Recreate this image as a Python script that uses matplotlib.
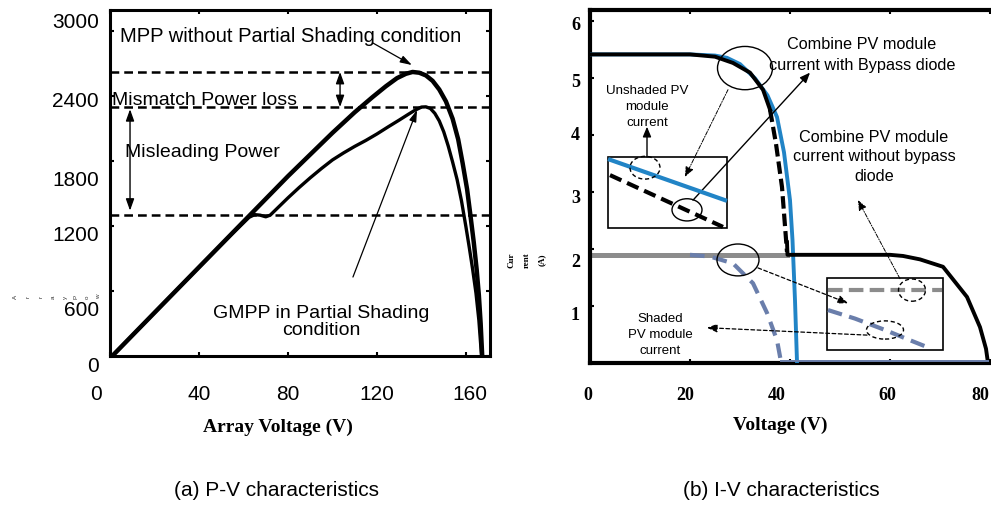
import matplotlib
matplotlib.use('Agg')
import matplotlib.pyplot as plt
from matplotlib.patches import Ellipse, Rectangle

plt.rcParams['font.family'] = ['Liberation Sans', 'DejaVu Sans']

W, H = 991, 505

# ---- P-V data (array voltage V, power W) ----
v_uniform = [1, 20, 40, 60, 80, 100, 110, 118, 124, 129, 133, 136, 139, 142, 145,
             148, 151, 154, 156.5, 158.5, 160.5, 162, 163.5, 164.8, 165.8, 166.6, 167.3]
p_uniform = [0, 400, 820, 1240, 1660, 2060, 2250, 2390, 2490, 2565, 2605, 2622, 2615,
             2590, 2540, 2460, 2350, 2190, 2000, 1780, 1540, 1300, 1050, 800, 560, 300, 0]

v_shaded = [1, 20, 40, 55, 60, 62.5, 65, 67.5, 70, 72, 75, 80, 85, 90, 95, 100, 105,
            110, 115, 120, 125, 130, 134, 137, 140, 142, 144, 146, 148, 150, 152, 154,
            156, 158, 160, 161.5, 163, 164.5, 165.8, 167]
p_shaded = [0, 400, 820, 1130, 1230, 1280, 1305, 1300, 1285, 1300, 1360, 1460, 1555,
            1645, 1730, 1810, 1875, 1935, 1990, 2050, 2115, 2178, 2230, 2268, 2298, 2300,
            2285, 2240, 2170, 2070, 1940, 1790, 1630, 1430, 1190, 1000, 800, 580, 330, 0]

p_mpp = 2622     # MPP without shading
p_gmpp = 2298    # GMPP with partial shading
p_lmpp = 1302    # local peak (misleading)

pv_xticks = [0, 40, 80, 120, 160]
pv_yticks = [0, 600, 1200, 1800, 2400, 3000]

# ---- I-V data (voltage V, current A) ----
v_comb_top = [0, 20, 25, 28.6, 32, 34.6, 36]
i_comb_top = [5.42, 5.42, 5.38, 5.27, 5.10, 4.80, 4.45]
v_comb_drop = [36, 37.2, 38.4, 39.4]
i_comb_drop = [4.45, 3.85, 3.09, 1.95]
v_comb_low = [39.4, 39.5, 50, 60, 62.6, 66, 70.6, 75.4, 78, 79.2, 79.6]
i_comb_low = [2.12, 1.9, 1.9, 1.9, 1.88, 1.82, 1.69, 1.16, 0.63, 0.25, 0.0]

v_unshaded = [0, 20, 25, 27.4, 30, 33, 35.5, 37.4, 38.8, 40, 40.5, 41, 41.4]
i_unshaded = [5.42, 5.42, 5.4, 5.36, 5.25, 5.0, 4.7, 4.32, 3.7, 2.86, 2.16, 1.1, 0.02]

v_gray = [0, 39.4]
i_gray = [1.9, 1.9]

v_shaded_iv = [20, 24, 28.6, 32.6, 35.4, 37.4, 38.2]
i_shaded_iv = [1.9, 1.87, 1.75, 1.4, 0.88, 0.4, 0.02]

v_zero = [38.2, 79.6]
i_zero = [0.03, 0.03]

# zoomed detail lines inside the two insets
v_in1_blue = [4, 27]
i_in1_blue = [3.57, 2.86]
v_in1_black = [4, 26.6]
i_in1_black = [3.30, 2.39]
v_in2_gray = [47.6, 70.4]
i_in2_gray = [1.28, 1.28]
v_in2_slate = [47.6, 53, 59, 64, 68]
i_in2_slate = [0.93, 0.78, 0.58, 0.40, 0.26]

iv_xticks = [0, 20, 40, 60, 80]
iv_yticks = [1, 2, 3, 4, 5, 6]

BLUE = '#2184c6'
GRAY = '#8c8c8c'
SLATE = '#6a7eab'


def px_axes(x0, y0, x1, y1):
    return fig.add_axes([x0 / W, 1 - y1 / H, (x1 - x0) / W, (y1 - y0) / H])


def ftext(x, y, s, **kw):
    fig.text(x / W, 1 - y / H, s, **kw)


fig = plt.figure(figsize=(W / 100, H / 100), dpi=100)

# ================= (a) P-V =================
ax1 = px_axes(110, 10, 490, 356)
ax1.set_xlim(0, 170.8)
ax1.set_ylim(0, 3194)
for s in ax1.spines.values():
    s.set_linewidth(2.2)
ax1.set_xticks(pv_xticks)
ax1.set_yticks(pv_yticks)
ax1.tick_params(direction='in', length=3, width=1.5, top=True, right=True,
                labelbottom=False, labelleft=False)

ax1.plot(v_uniform, p_uniform, color='black', lw=3.2, solid_capstyle='round',
         solid_joinstyle='round', zorder=3)
ax1.plot(v_shaded, p_shaded, color='black', lw=2.4, solid_capstyle='round',
         solid_joinstyle='round', zorder=3)
for p in (p_mpp, p_gmpp, p_lmpp):
    ax1.axhline(p, color='black', lw=1.8, dashes=(3.5, 2), zorder=2)

pv_fs = 14
ax1.text(4.5, 2945, 'MPP without Partial Shading condition', fontsize=14.5,
         va='center', ha='left')
ax1.text(0.9, 2354, 'Mismatch Power loss', fontsize=pv_fs, va='center', ha='left',
         zorder=1)
ax1.text(6.7, 1874, 'Misleading Power', fontsize=pv_fs, va='center', ha='left')
ax1.text(94.8, 314, 'GMPP in Partial Shading\ncondition', fontsize=pv_fs,
         va='center', ha='center', linespacing=0.95)

thin = dict(arrowstyle='-|>,head_length=0.7,head_width=0.22', color='black', lw=0.9,
            shrinkA=0, shrinkB=0)
both = dict(arrowstyle='<|-|>,head_length=0.7,head_width=0.25', color='black', lw=1.0,
            shrinkA=0, shrinkB=0)
ax1.annotate('', xy=(135.7, 2686), xytext=(118.2, 2889), arrowprops=thin)
ax1.annotate('', xy=(103.4, p_gmpp), xytext=(103.4, p_mpp), arrowprops=both)
ax1.annotate('', xy=(9.0, p_lmpp + 40), xytext=(9.0, p_gmpp - 20), arrowprops=both)
ax1.annotate('', xy=(138, 2271), xytext=(109.2, 729), arrowprops=thin)

# tick labels, placed as in the original figure
for val, dy in zip(pv_yticks, [-11, -19, -9, -19, -5, 9]):
    ax1.annotate(str(val), xy=(0, val), xycoords=ax1.get_yaxis_transform(),
                 xytext=(-11, dy), textcoords='offset pixels', ha='right',
                 va='center', fontsize=15)
for val, dx in zip(pv_xticks, [-14, 0, 0, 0, 4]):
    ax1.annotate(str(val), xy=(val, 0), xycoords=ax1.get_xaxis_transform(),
                 xytext=(dx, -39), textcoords='offset pixels', ha='center',
                 va='center', fontsize=15)

ftext(278, 427, 'Array Voltage (V)', fontsize=14, fontweight='bold',
      family='Liberation Serif', ha='center', va='center')
for ch, x in zip('ArrayPow', [15, 28, 41, 53, 65, 76, 87, 99]):
    ftext(x, 297, ch, fontsize=4.5, rotation=90, ha='center', va='center',
          color='#333333')

# ================= (b) I-V =================
ax2 = px_axes(590, 10, 992, 363)
ax2.set_xlim(0, 80.4)
ax2.set_ylim(0, 6.2)
for s in ax2.spines.values():
    s.set_linewidth(3.0)
ax2.set_xticks(iv_xticks)
ax2.set_yticks(iv_yticks)
ax2.tick_params(direction='in', length=3, width=1.5, top=True, right=False,
                labelbottom=False, labelleft=False)

ax2.plot(v_gray, i_gray, color=GRAY, lw=3.6, zorder=2)
ax2.plot(v_unshaded, i_unshaded, color=BLUE, lw=2.8, zorder=3)
ax2.plot(v_comb_top, i_comb_top, color='black', lw=2.8, zorder=4)
ax2.plot(v_comb_drop, i_comb_drop, color='black', lw=3.0, dashes=(3, 1.2), zorder=4)
ax2.plot(v_comb_low, i_comb_low, color='black', lw=2.8, zorder=4)
ax2.plot(v_shaded_iv, i_shaded_iv, color=SLATE, lw=3.0, dashes=(3.5, 2), zorder=3)
ax2.plot(v_zero, i_zero, color=SLATE, lw=1.4, zorder=5)

# inset boxes
ax2.add_patch(Rectangle((3.6, 2.37), 23.8, 1.25, fill=False, lw=1.2, zorder=5))
ax2.plot(v_in1_blue, i_in1_blue, color=BLUE, lw=3.0, zorder=5)
ax2.plot(v_in1_black, i_in1_black, color='black', lw=3.0, dashes=(3, 1.5), zorder=5)
ax2.add_patch(Rectangle((47.4, 0.23), 23.2, 1.26, fill=False, lw=1.2, zorder=5))
ax2.plot(v_in2_gray, i_in2_gray, color=GRAY, lw=3.0, dashes=(3.5, 1.5), zorder=5)
ax2.plot(v_in2_slate, i_in2_slate, color=SLATE, lw=3.0, dashes=(3.5, 1.8), zorder=5)

# highlight ellipses
ax2.add_patch(Ellipse((31, 5.18), 11, 0.76, fill=False, lw=1.0, zorder=6))
ax2.add_patch(Ellipse((29.6, 1.81), 8.4, 0.56, fill=False, lw=1.0, zorder=6))
ax2.add_patch(Ellipse((11, 3.43), 6, 0.40, fill=False, lw=1.0, ls=(0, (3, 2)), zorder=6))
ax2.add_patch(Ellipse((19.4, 2.69), 6, 0.39, fill=False, lw=1.0, zorder=6))
ax2.add_patch(Ellipse((64.4, 1.28), 5.4, 0.39, fill=False, lw=1.0, ls=(0, (3, 2)), zorder=6))
ax2.add_patch(Ellipse((59, 0.58), 7.4, 0.32, fill=False, lw=1.0, ls=(0, (3, 2)), zorder=6))

iv_fs = 11.7
ax2.text(54.4, 5.41, 'Combine PV module\ncurrent with Bypass diode', fontsize=iv_fs,
         ha='center', va='center', linespacing=1.45)
ax2.text(56.8, 3.62, 'Combine PV module\ncurrent without bypass\ndiode', fontsize=iv_fs,
         ha='center', va='center', linespacing=1.4)
ax2.text(11.4, 4.50, 'Unshaded PV\nmodule\ncurrent', fontsize=9.6, ha='center',
         va='center', linespacing=1.42)
ax2.text(14, 0.49, 'Shaded\nPV module\ncurrent', fontsize=9.5, ha='center',
         va='center', linespacing=1.42, zorder=7)

solid = dict(arrowstyle='-|>,head_length=0.6,head_width=0.25', color='black', lw=1.0,
             shrinkA=0, shrinkB=0)
dashd = dict(arrowstyle='-|>,head_length=0.6,head_width=0.25', color='black', lw=0.9,
             ls=(0, (3, 2)), shrinkA=0, shrinkB=0)
dashdot = dict(arrowstyle='-|>,head_length=0.6,head_width=0.25', color='black', lw=0.7,
               ls=(0, (4, 1.5, 1, 1.5)), shrinkA=0, shrinkB=0)
ax2.annotate('', xy=(11.4, 4.15), xytext=(11.4, 3.62), arrowprops=solid)
ax2.annotate('', xy=(44, 5.10), xytext=(20.6, 2.86), arrowprops=solid)
ax2.annotate('', xy=(19, 3.27), xytext=(27.6, 4.80), arrowprops=dashdot)
ax2.annotate('', xy=(53.6, 2.86), xytext=(62, 1.48), arrowprops=dashdot)
ax2.annotate('', xy=(51.6, 1.05), xytext=(33.6, 1.67), arrowprops=dashd)
ax2.annotate('', xy=(23.4, 0.62), xytext=(55.4, 0.49), arrowprops=dashd)

for val, dy in zip(iv_yticks, [-9, -13, -6, 0, -4, -4]):
    ax2.annotate(str(val), xy=(0, val), xycoords=ax2.get_yaxis_transform(),
                 xytext=(-10, dy), textcoords='offset pixels', ha='right',
                 va='center', fontsize=13, fontweight='bold', family='Liberation Serif')
for val, dx in zip(iv_xticks, [-2, -5, -13, -3, -10]):
    ax2.annotate(str(val), xy=(val, 0), xycoords=ax2.get_xaxis_transform(),
                 xytext=(dx, -32), textcoords='offset pixels', ha='center',
                 va='center', fontsize=13, fontweight='bold', family='Liberation Serif')

ftext(780, 425, 'Voltage (V)', fontsize=14, fontweight='bold',
      family='Liberation Serif', ha='center', va='center')
for s, x in zip(['Cur', 'rent', '(A)'], [512, 527, 542]):
    ftext(x, 260, s, fontsize=6.5, rotation=90, ha='center', va='center',
          fontweight='bold', family='Liberation Serif')

# captions
ftext(277, 490, '(a) P-V characteristics', fontsize=15, ha='center', va='center')
ftext(781, 490, '(b) I-V characteristics', fontsize=15, ha='center', va='center')

fig.savefig('out.png', dpi=100)
